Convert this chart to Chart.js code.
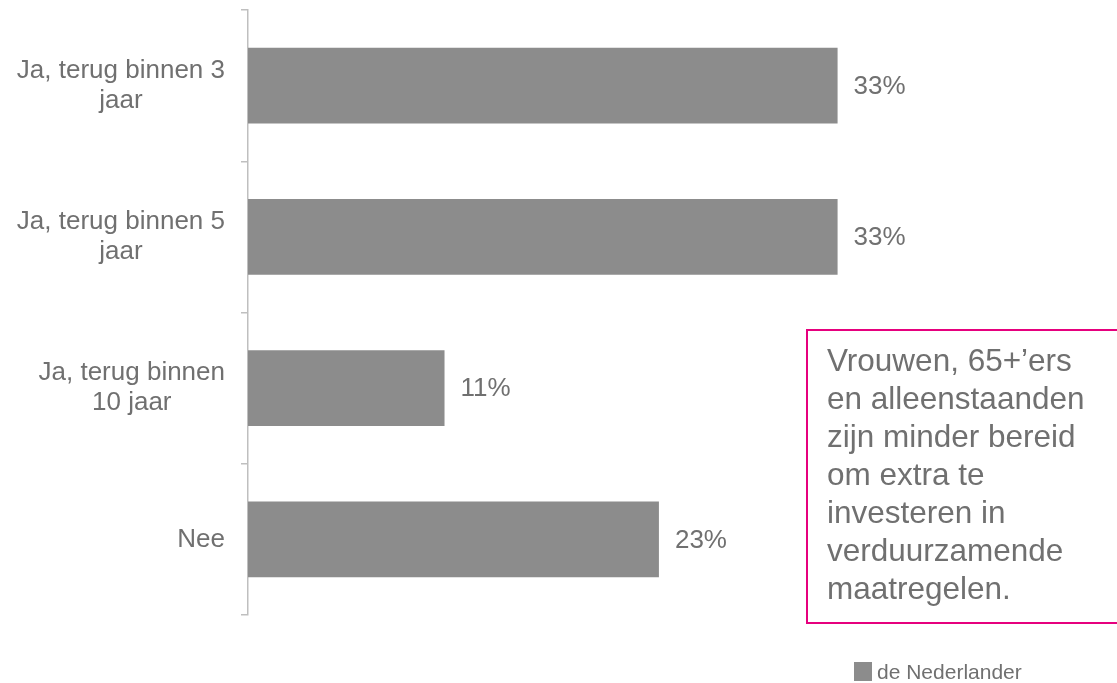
<!DOCTYPE html>
<html>
<head>
<meta charset="utf-8">
<script src="https://cdn.jsdelivr.net/npm/chart.js@4.4.1/dist/chart.umd.min.js"></script>
<style>
  html, body { margin: 0; padding: 0; background: #fff; overflow: hidden; }
  #wrap { position: relative; width: 1117px; height: 683px; overflow: hidden; font-family: "Liberation Sans", Arial, sans-serif; }
  #chartBox { position: absolute; left: 0; top: 0; width: 1117px; height: 683px; }
  #note {
    position: absolute; left: 806px; top: 329px; width: 330px; height: 281px;
    border: 2.5px solid #e6007e; box-sizing: content-box;
    padding: 10px 0 0 19px; color: #707070;
    font-size: 31.5px; line-height: 38px;
  }
  #legend { position: absolute; left: 854px; top: 662px; height: 19px; display: flex; align-items: center; color: #707070; font-size: 21px; }
  #legend span.sw { width: 18px; height: 19px; background: #8c8c8c; margin-right: 5px; }
</style>
</head>
<body>
<div id="wrap">
  <div id="chartBox"><canvas id="barChart"></canvas></div>
  <div id="note">Vrouwen, 65+’ers<br>en alleenstaanden<br>zijn minder bereid<br>om extra te<br>investeren in<br>verduurzamende<br>maatregelen.</div>
  <div id="legend"><span class="sw"></span><span>de Nederlander</span></div>
</div>
<script>
const categories = [
  ['Ja, terug binnen 3', 'jaar'],
  ['Ja, terug binnen 5', 'jaar'],
  ['Ja, terug binnen', '10 jaar'],
  ['Nee']
];
const values = [33, 33, 11, 23];
const seriesName = 'de Nederlander';

const textColor = '#707070';
const barColor = '#8c8c8c';
const axisColor = '#bfbfbf';
const fontFamily = '"Liberation Sans", Arial, sans-serif';

// category labels: block right-aligned to the axis, lines centered in the block
const categoryLabels = {
  id: 'categoryLabels',
  afterDraw(chart) {
    const ctx = chart.ctx;
    const yScale = chart.scales.y;
    const rightX = chart.chartArea.left - 23;
    ctx.save();
    ctx.font = '26px ' + fontFamily;
    ctx.fillStyle = textColor;
    ctx.textAlign = 'center';
    ctx.textBaseline = 'middle';
    categories.forEach((lines, i) => {
      const y = yScale.getPixelForTick(i);
      const w = Math.max(...lines.map(l => ctx.measureText(l).width));
      const cx = rightX - w / 2;
      lines.forEach((line, j) => {
        ctx.fillText(line, cx, y + (j - (lines.length - 1) / 2) * 30);
      });
    });
    ctx.restore();
  }
};

// value labels after each bar
const valueLabels = {
  id: 'valueLabels',
  afterDatasetsDraw(chart) {
    const ctx = chart.ctx;
    const meta = chart.getDatasetMeta(0);
    ctx.save();
    ctx.font = '26px ' + fontFamily;
    ctx.fillStyle = textColor;
    ctx.textAlign = 'left';
    ctx.textBaseline = 'middle';
    meta.data.forEach((bar, i) => {
      ctx.fillText(values[i] + '%', bar.x + 16, bar.y + 1);
    });
    ctx.restore();
  }
};

const ctx = document.getElementById('barChart').getContext('2d');
new Chart(ctx, {
  type: 'bar',
  data: {
    labels: categories.map(c => c.join(' ')),
    datasets: [{
      label: seriesName,
      data: values,
      backgroundColor: barColor,
      borderWidth: 0,
      barPercentage: 0.5,
      categoryPercentage: 1.0
    }]
  },
  options: {
    indexAxis: 'y',
    responsive: true,
    maintainAspectRatio: false,
    animation: false,
    layout: { padding: { left: 241, right: 15, top: 10, bottom: 68 } },
    plugins: {
      legend: { display: false },
      tooltip: { enabled: false }
    },
    scales: {
      x: { display: false, min: 0, max: 47.8 },
      y: {
        offset: true,
        grid: { offset: true, drawOnChartArea: false, drawTicks: true, tickLength: 7, color: axisColor, lineWidth: 1.5 },
        border: { display: true, color: axisColor, width: 1.5 },
        ticks: { display: false }
      }
    }
  },
  plugins: [categoryLabels, valueLabels]
});
</script>
</body>
</html>
